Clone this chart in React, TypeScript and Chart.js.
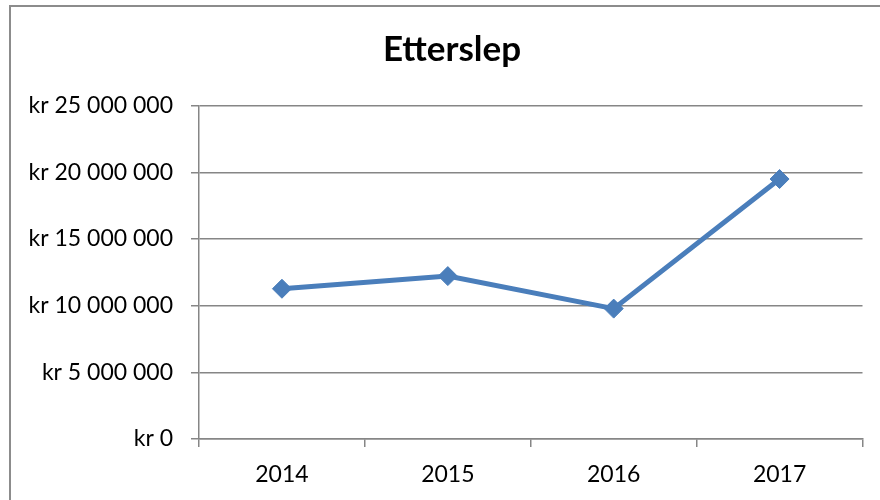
import React, { useEffect, useRef } from "react";
import { Chart, registerables } from "chart.js";

Chart.register(...registerables);

const title = "Etterslep";
const categories = ["2014", "2015", "2016", "2017"];
const values = [11270000, 12220000, 9780000, 19500000];
const yTicks = [0, 5000000, 10000000, 15000000, 20000000, 25000000];

const FONT = "Lato, 'Open Sans', sans-serif";

function fmt(v: number): string {
  return "kr " + Math.round(v).toString().replace(/\B(?=(\d{3})+(?!\d))/g, " ");
}

const framePlugin = {
  id: "frame",
  beforeDraw(chart: any) {
    const ctx = chart.ctx;
    ctx.save();
    ctx.fillStyle = "#ffffff";
    ctx.fillRect(0, 0, chart.width, chart.height);
    ctx.strokeStyle = "#8c8c8c";
    ctx.lineWidth = 2;
    ctx.strokeRect(10, 6, 1000, 1000);
    ctx.restore();
  },
  afterDraw(chart: any) {
    const ctx = chart.ctx;
    ctx.save();
    ctx.fillStyle = "#000000";
    ctx.font = "bold 35px " + FONT;
    ctx.textAlign = "center";
    ctx.textBaseline = "middle";
    ctx.fillText(title, 452, 49.5);
    ctx.restore();
  },
};

export default function App() {
  const ref = useRef<HTMLCanvasElement | null>(null);
  useEffect(() => {
    if (!ref.current) return;
    const chart = new Chart(ref.current, {
      type: "line",
      data: {
        labels: categories,
        datasets: [
          {
            label: title,
            data: values,
            borderColor: "#4A7EBB",
            backgroundColor: "#4A7EBB",
            borderWidth: 5,
            pointStyle: "rectRot",
            pointRadius: 9.5,
            pointBorderWidth: 1,
            pointBackgroundColor: "#4A7EBB",
            pointBorderColor: "#4A7EBB",
            tension: 0,
          },
        ],
      },
      options: {
        animation: false,
        responsive: false,
        maintainAspectRatio: false,
        layout: { padding: { left: 12, right: 17.5, top: 105.7, bottom: 0 } },
        plugins: {
          legend: { display: false },
          tooltip: { enabled: false },
          title: { display: false },
        },
        scales: {
          x: {
            type: "category",
            offset: true,
            grid: {
              offset: true,
              drawOnChartArea: false,
              drawTicks: true,
              tickLength: 8,
              color: "#868686",
              lineWidth: 1.5,
            },
            border: { display: true, color: "#868686", width: 1.5 },
            ticks: {
              color: "#000000",
              font: { family: FONT, size: 23 },
              padding: 14,
              maxRotation: 0,
            },
            afterFit(scale: any) {
              scale.height = 61;
            },
          },
          y: {
            min: 0,
            max: 25000000,
            grid: {
              color: "#868686",
              lineWidth: 1.5,
              drawTicks: true,
              tickLength: 8,
            },
            border: { display: true, color: "#868686", width: 1.5 },
            afterBuildTicks(scale: any) {
              scale.ticks = yTicks.map((v) => ({ value: v }));
            },
            ticks: {
              color: "#000000",
              font: { family: FONT, size: 23 },
              padding: 18,
              callback: (v: any) => fmt(Number(v)),
            },
            afterFit(scale: any) {
              scale.width = 187;
            },
          },
        },
      },
      plugins: [framePlugin],
    });
    return () => chart.destroy();
  }, []);
  return (
    <div style={{ position: "absolute", left: 0, top: 0, width: 880, height: 500, overflow: "hidden" }}>
      <canvas ref={ref} width={880} height={500} style={{ display: "block" }} />
    </div>
  );
}
